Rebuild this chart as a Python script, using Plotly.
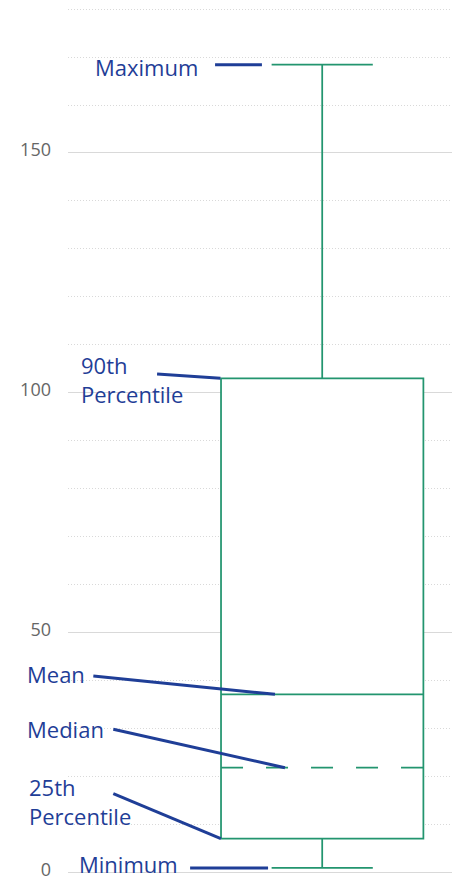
import plotly.graph_objects as go

# ---- data ----
stat_labels = ["Maximum", "90th<br>Percentile", "Mean", "Median", "25th<br>Percentile", "Minimum"]
maximum_value = 168.4
pct90_value = 103.0
mean_value = 37.1      # drawn as the solid line inside the box
median_value = 21.8    # drawn as the dashed line inside the box
pct25_value = 7.0
minimum_value = 0.9

y_tick_values = [0, 50, 100, 150]
y_tick_labels = ["0", "50", "100", "150"]

# callout geometry: (text x [paper], text y [data], line start x, line start y, line end x, line end y)
callout_text_x = [0.066, 0.029, -0.113, -0.111, -0.106, 0.024]
callout_text_y = [168.0, 102.7, 41.4, 29.9, 14.7, 1.8]
callout_x0 = [0.383, 0.232, 0.066, 0.118, 0.118, 0.318]
callout_y0 = [maximum_value, 103.9, 40.9, 29.8, 16.4, minimum_value]
callout_x1 = [0.505, 0.397, 0.539, 0.565, 0.398, 0.521]
callout_y1 = [maximum_value, pct90_value, mean_value, median_value, pct25_value, minimum_value]
callout_box_h = [24, None, 24, 24, None, 24]

# ---- style ----
BOX_COLOR = "#23956F"
NOTE_COLOR = "#1F3E97"
GRID_COLOR = "#D9D9D9"
FONT = "Open Sans"

box_center = 0.662
box_width = 0.527

fig = go.Figure()

fig.add_trace(go.Box(
    x=[box_center],
    q1=[pct25_value],
    median=[mean_value],
    q3=[pct90_value],
    lowerfence=[minimum_value],
    upperfence=[maximum_value],
    width=box_width,
    whiskerwidth=0.5,
    fillcolor="white",
    line=dict(color=BOX_COLOR, width=1.75),
    boxpoints=False,
    hoverinfo="skip",
    showlegend=False,
))

# dashed line across the box
fig.add_trace(go.Scatter(
    x=[box_center - box_width / 2, box_center + box_width / 2],
    y=[median_value, median_value],
    mode="lines",
    line=dict(color=BOX_COLOR, width=1.75, dash="22px,23px"),
    hoverinfo="skip",
    showlegend=False,
))

shapes = []
annotations = []
for lab, tx, ty, x0, y0, x1, y1, bh in zip(stat_labels, callout_text_x, callout_text_y,
                                            callout_x0, callout_y0, callout_x1, callout_y1,
                                            callout_box_h):
    shapes.append(dict(type="line", xref="x", yref="y", x0=x0, y0=y0, x1=x1, y1=y1,
                       line=dict(color=NOTE_COLOR, width=3), layer="above"))
    ann = dict(text=lab, xref="paper", yref="y", x=tx, y=ty,
               xanchor="left", yanchor="middle", align="left", valign="middle",
               showarrow=False,
               font=dict(family=FONT, size=22, color=NOTE_COLOR))
    if bh is not None:
        ann["height"] = bh
    annotations.append(ann)

fig.update_layout(
    width=458, height=880,
    margin=dict(l=68, r=6, t=0, b=3),
    paper_bgcolor="white", plot_bgcolor="white",
    shapes=shapes, annotations=annotations,
    xaxis=dict(range=[0, 1], showgrid=False, zeroline=False, showticklabels=False,
               showline=False, fixedrange=True),
    yaxis=dict(range=[-1, 181.9], tickvals=y_tick_values, ticktext=y_tick_labels,
               showgrid=True, gridcolor=GRID_COLOR, gridwidth=1, zeroline=False,
               showline=False, ticks="", ticklabelstandoff=16, ticklabelshift=-3,
               automargin=False, ticklabeloverflow="allow",
               tickfont=dict(family=FONT, size=18, color="#666666"),
               minor=dict(dtick=10, tick0=0, showgrid=True, gridcolor=GRID_COLOR,
                          gridwidth=1, griddash="1px,2px"),
               fixedrange=True),
)

fig.write_html(
    "out.html",
    config={"displayModeBar": False},
    post_script="document.body.style.margin='0';document.body.style.padding='0';",
)
